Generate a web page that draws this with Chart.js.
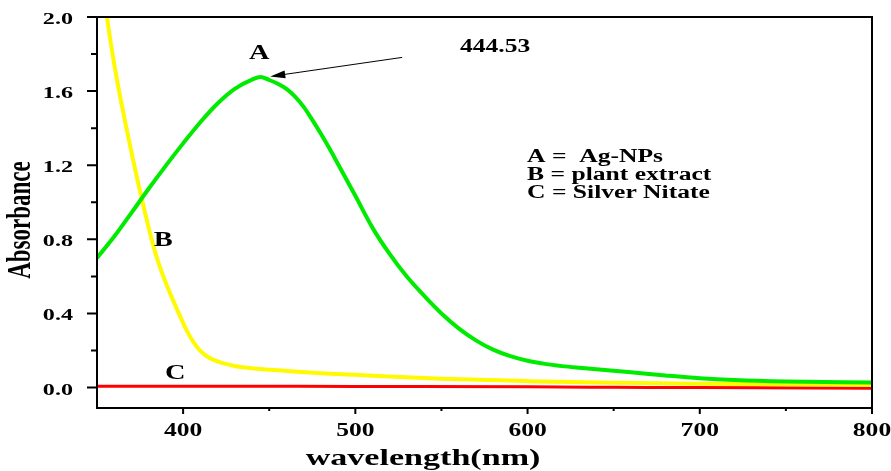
<!DOCTYPE html>
<html>
<head>
<meta charset="utf-8">
<script src="https://cdn.jsdelivr.net/npm/chart.js@4.4.0/dist/chart.umd.min.js"></script>
<style>
  html, body { margin: 0; padding: 0; background: #fff; }
</style>
</head>
<body>
<canvas id="uvChart" width="891" height="471"></canvas>
<script>
// A = Ag-NPs (green)
const wavelengthA = [350, 360, 370, 380, 390, 400, 410, 420, 430, 440, 445, 450, 455, 460, 465, 470, 475, 480, 485, 490, 495, 500, 510, 520, 530, 540, 550, 560, 570, 580, 590, 600, 610, 620, 630, 640, 660, 680, 700, 720, 750, 800];
const absorbanceA = [0.70, 0.815, 0.943, 1.073, 1.198, 1.318, 1.432, 1.533, 1.612, 1.662, 1.676, 1.66, 1.64, 1.612, 1.57, 1.515, 1.445, 1.37, 1.29, 1.205, 1.12, 1.035, 0.862, 0.72, 0.598, 0.495, 0.40, 0.32, 0.255, 0.205, 0.17, 0.145, 0.128, 0.116, 0.107, 0.099, 0.083, 0.066, 0.051, 0.041, 0.033, 0.028];

// B = plant extract (yellow)
const wavelengthB = [350, 354, 358, 362, 366, 370, 374, 378, 382, 386, 390, 394, 398, 402, 406, 410, 414, 418, 422, 430, 440, 460, 480, 500, 550, 600, 650, 700, 750, 800];
const absorbanceB = [2.40, 2.12, 1.86, 1.64, 1.45, 1.27, 1.10, 0.94, 0.79, 0.665, 0.565, 0.475, 0.39, 0.31, 0.245, 0.198, 0.168, 0.148, 0.135, 0.117, 0.104, 0.09, 0.078, 0.069, 0.048, 0.035, 0.026, 0.021, 0.018, 0.015];

// C = Silver Nitate (red)
const wavelengthC = [350, 400, 500, 600, 650, 700, 800];
const absorbanceC = [0.008, 0.008, 0.006, 0.004, 0.002, 0.0, -0.003];

const xTicks = [400, 500, 600, 700, 800];
const xMinorTicks = [450, 550, 650, 750];
const yTicks = [0.0, 0.4, 0.8, 1.2, 1.6, 2.0];
const yMinorTicks = [0.2, 0.6, 1.0, 1.4, 1.8];

const legendLines = ["A =  Ag-NPs", "B = plant extract", "C = Silver Nitate"];
const peakLabel = "444.53";

function toPoints(xs, ys) {
  return xs.map((x, i) => ({ x: x, y: ys[i] }));
}

// the original picture is stretched sideways, so text is drawn wider
const SX = 1.42;
const FONT = "'Liberation Serif', 'Times New Roman', serif";

function stretchText(ctx, text, x, y, size, align, baseline, rotate) {
  ctx.save();
  ctx.translate(x, y);
  ctx.scale(SX, 1);
  if (rotate) ctx.rotate(-Math.PI / 2);
  ctx.font = "bold " + size + "px " + FONT;
  ctx.textAlign = align;
  ctx.textBaseline = baseline;
  ctx.fillStyle = "#000";
  ctx.fillText(text, 0, 0);
  ctx.restore();
}

const framePlugin = {
  id: "frame",
  afterDraw(chart) {
    const ctx = chart.ctx;
    const area = chart.chartArea;
    const xs = chart.scales.x;
    const ys = chart.scales.y;

    // box
    ctx.save();
    ctx.strokeStyle = "#000";
    ctx.lineWidth = 2;
    ctx.strokeRect(area.left, area.top, area.right - area.left, area.bottom - area.top);

    // ticks
    ctx.beginPath();
    yTicks.forEach(v => {
      const y = ys.getPixelForValue(v);
      ctx.moveTo(area.left - 10, y);
      ctx.lineTo(area.left, y);
    });
    yMinorTicks.forEach(v => {
      const y = ys.getPixelForValue(v);
      ctx.moveTo(area.left - 6, y);
      ctx.lineTo(area.left, y);
    });
    xTicks.forEach(v => {
      const x = xs.getPixelForValue(v);
      ctx.moveTo(x, area.bottom);
      ctx.lineTo(x, area.bottom + 6);
    });
    xMinorTicks.forEach(v => {
      const x = xs.getPixelForValue(v);
      ctx.moveTo(x, area.bottom);
      ctx.lineTo(x, area.bottom + 3);
    });
    ctx.stroke();
    ctx.restore();

    // tick labels
    yTicks.forEach(v => {
      stretchText(ctx, v.toFixed(1), area.left - 24, ys.getPixelForValue(v) + 7, 17, "right", "alphabetic");
    });
    xTicks.forEach(v => {
      stretchText(ctx, String(v), xs.getPixelForValue(v), area.bottom + 28, 18, "center", "alphabetic");
    });

    // axis titles
    stretchText(ctx, "wavelength(nm)", 423, 465, 24, "center", "alphabetic");
    stretchText(ctx, "Absorbance", 22, 220, 23, "center", "middle", true);

    // curve labels
    stretchText(ctx, "A", xs.getPixelForValue(444.2), ys.getPixelForValue(1.80), 20, "center", "middle");
    stretchText(ctx, "B", xs.getPixelForValue(388.5), ys.getPixelForValue(0.793), 20, "center", "middle");
    stretchText(ctx, "C", xs.getPixelForValue(395.4), ys.getPixelForValue(0.074), 20, "center", "middle");
    stretchText(ctx, peakLabel, xs.getPixelForValue(581.2), ys.getPixelForValue(1.836), 18, "center", "middle");

    // arrow to the peak
    const x1 = xs.getPixelForValue(527.2), y1 = ys.getPixelForValue(1.782);
    const x2 = xs.getPixelForValue(450.6), y2 = ys.getPixelForValue(1.679);
    const ang = Math.atan2(y2 - y1, x2 - x1);
    ctx.save();
    ctx.strokeStyle = "#000";
    ctx.fillStyle = "#000";
    ctx.lineWidth = 1;
    ctx.beginPath();
    ctx.moveTo(x1, y1);
    ctx.lineTo(x2 - 12 * Math.cos(ang), y2 - 12 * Math.sin(ang));
    ctx.stroke();
    ctx.beginPath();
    ctx.moveTo(x2, y2);
    ctx.lineTo(x2 - 15 * Math.cos(ang) + 4 * Math.sin(ang), y2 - 15 * Math.sin(ang) - 4 * Math.cos(ang));
    ctx.lineTo(x2 - 15 * Math.cos(ang) - 4 * Math.sin(ang), y2 - 15 * Math.sin(ang) + 4 * Math.cos(ang));
    ctx.closePath();
    ctx.fill();
    ctx.restore();

    // legend text
    const legendY = [1.22, 1.122, 1.025];
    legendLines.forEach((t, i) => {
      stretchText(ctx, t, xs.getPixelForValue(599.7), ys.getPixelForValue(legendY[i]), 18, "left", "alphabetic");
    });
  }
};

const ctx = document.getElementById("uvChart").getContext("2d");
const uvChart = new Chart(ctx, {
  type: "line",
  data: {
    datasets: [
      {
        label: "A",
        data: toPoints(wavelengthA, absorbanceA),
        borderColor: "rgb(0, 235, 0)",
        borderWidth: 4,
        pointRadius: 0,
        cubicInterpolationMode: "monotone",
        fill: false,
      },
      {
        label: "B",
        data: toPoints(wavelengthB, absorbanceB),
        borderColor: "rgb(255, 250, 0)",
        borderWidth: 4,
        pointRadius: 0,
        cubicInterpolationMode: "monotone",
        fill: false,
      },
      {
        label: "C",
        data: toPoints(wavelengthC, absorbanceC),
        borderColor: "rgb(255, 0, 0)",
        borderWidth: 3,
        pointRadius: 0,
        cubicInterpolationMode: "monotone",
        fill: false,
      },
    ],
  },
  options: {
    responsive: false,
    animation: false,
    layout: { padding: { top: 17, right: 19, left: 0, bottom: 0 } },
    plugins: {
      legend: { display: false },
      tooltip: { enabled: false },
    },
    scales: {
      x: {
        type: "linear",
        min: 350,
        max: 800,
        grid: { display: false },
        border: { display: false },
        ticks: { display: false },
        afterFit: s => { s.height = 63; },
      },
      y: {
        min: -0.11,
        max: 2.0,
        grid: { display: false },
        border: { display: false },
        ticks: { display: false },
        afterFit: s => { s.width = 97; },
      },
    },
  },
  plugins: [framePlugin],
});
</script>
</body>
</html>
